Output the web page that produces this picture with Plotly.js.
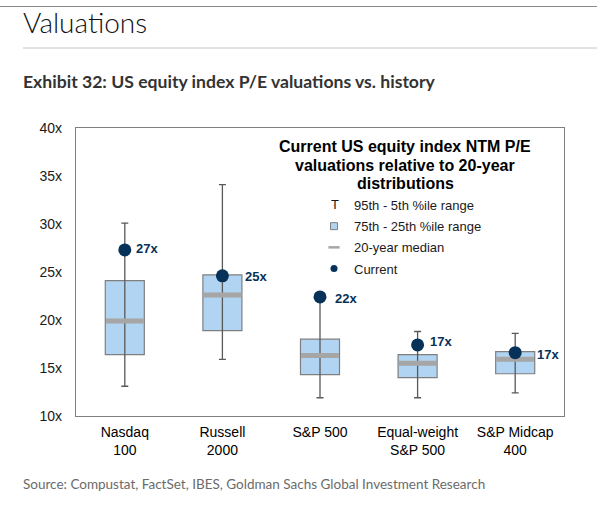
<!DOCTYPE html>
<html>
<head>
<meta charset="utf-8">
<script src="https://cdn.plot.ly/plotly-3.0.1.min.js"></script>
<style>
html,body{margin:0;padding:0;background:#fff;}
#wrap{position:relative;width:597px;height:514px;}
#chart{width:597px;height:514px;}
#topline{position:absolute;left:0;top:6px;width:597px;height:0;border-top:1.5px solid #8a8a8a;z-index:5;}
</style>
</head>
<body>
<div id="wrap">
<div id="chart"></div>
<div id="topline"></div>
</div>
<script>
// ---- data ----
var categories = ["Nasdaq<br>100", "Russell<br>2000", "S&P 500", "Equal-weight<br>S&P 500", "S&P Midcap<br>400"];
var p95     = [30.1, 34.1, 22.3, 18.8, 18.6];
var p5      = [13.1, 15.9, 11.9, 11.9, 12.4];
var p75     = [24.1, 24.7, 18.0, 16.4, 16.7];
var p25     = [16.4, 18.9, 14.3, 14.0, 14.4];
var median  = [19.9, 22.6, 16.3, 15.5, 15.9];
var current = [27.3, 24.6, 22.4, 17.4, 16.6];
var currentLabels = ["27x", "25x", "22x", "17x", "17x"];
var yTickVals = [10, 15, 20, 25, 30, 35, 40];
var yTickText = ["10x", "15x", "20x", "25x", "30x", "35x", "40x"];

// label placement (style only)
var labelXShift = [11, 23, 15, 12, 22];
var labelYShift = [1, -1, -2, 3, -2];

var navy = "#06325a";
var boxFill = "#b0d4f1";
var boxLine = "#7f7f7f";
var medGray = "#a6a6a6";
var whiskerCol = "#595959";

var iqr = p75.map(function (v, i) { return v - p25[i]; });
var mid = p95.map(function (v, i) { return (v + p5[i]) / 2; });
var half = p95.map(function (v, i) { return (v - p5[i]) / 2; });

var traces = [
  { type: "bar", x: categories, y: iqr, base: p25, width: 0.4,
    marker: { color: boxFill, line: { color: boxLine, width: 1.2 } },
    showlegend: false, hoverinfo: "skip" },
  { type: "scatter", mode: "markers", x: categories, y: mid,
    marker: { size: 1, opacity: 0 },
    error_y: { type: "data", symmetric: true, array: half, width: 3.5, thickness: 1.3, color: whiskerCol },
    showlegend: false, hoverinfo: "skip" },
  { type: "scatter", mode: "markers", x: categories, y: median,
    marker: { symbol: "line-ew", size: 27, line: { width: 5, color: medGray } },
    showlegend: false, hoverinfo: "skip" },
  { type: "scatter", mode: "markers", x: categories, y: current,
    marker: { symbol: "circle", size: 13, color: navy },
    showlegend: false, hoverinfo: "skip" },
  // legend entries
  { type: "scatter", mode: "markers", x: [null], y: [null], name: "95th - 5th %ile range",
    legendgroup: "a0", marker: { symbol: "circle", size: 1, opacity: 0 } },
  { type: "scatter", mode: "markers", x: [null], y: [null], name: "75th - 25th %ile range",
    legendgroup: "a1", marker: { symbol: "square", size: 7, color: boxFill, line: { color: boxLine, width: 1 } } },
  { type: "scatter", mode: "markers", x: [null], y: [null], name: "20-year median",
    legendgroup: "a2", marker: { symbol: "line-ew", size: 8, line: { width: 2.5, color: medGray } } },
  { type: "scatter", mode: "markers", x: [null], y: [null], name: "Current",
    legendgroup: "a3", marker: { symbol: "circle", size: 7, color: navy } }
];

function px2x(px) { return (px - 76) / 488; }
function py2y(py) { return (416 - py) / 288; }

var annotations = [];
currentLabels.forEach(function (t, i) {
  annotations.push({ x: categories[i], y: current[i], xref: "x", yref: "y", text: "<b>" + t + "</b>",
    showarrow: false, xanchor: "left", yanchor: "middle", xshift: labelXShift[i] - 2, yshift: labelYShift[i],
    font: { family: "Arial, Liberation Sans, sans-serif", size: 13, color: navy } });
});
var legTitle = ["Current US equity index NTM P/E", "valuations relative to 20-year", "distributions"];
var legTitleY = [146.7, 165, 183.3];
legTitle.forEach(function (t, i) {
  annotations.push({ x: px2x(405), y: py2y(legTitleY[i]), xref: "paper", yref: "paper", text: "<b>" + t + "</b>",
    showarrow: false, xanchor: "center", yanchor: "middle",
    font: { family: "Arial, Liberation Sans, sans-serif", size: 16, color: "#000" } });
});
annotations.push({ x: px2x(335), y: py2y(204), xref: "paper", yref: "paper", text: "T", showarrow: false,
  xanchor: "center", yanchor: "middle", font: { family: "Arial, Liberation Sans, sans-serif", size: 13, color: "#1a1a1a" } });
annotations.push({ x: px2x(21), y: py2y(22), xref: "paper", yref: "paper", text: "Valuations", showarrow: false,
  xanchor: "left", yanchor: "middle", font: { family: "Lato, sans-serif", size: 28, weight: 300, color: "#111" } });
annotations.push({ x: px2x(21), y: py2y(81), xref: "paper", yref: "paper", text: "<b>Exhibit 32: US equity index P/E valuations vs. history</b>", showarrow: false,
  xanchor: "left", yanchor: "middle", font: { family: "Lato, sans-serif", size: 17.6, color: "#333" } });
annotations.push({ x: px2x(21), y: py2y(484), xref: "paper", yref: "paper", text: "Source: Compustat, FactSet, IBES, Goldman Sachs Global Investment Research", showarrow: false,
  xanchor: "left", yanchor: "middle", font: { family: "Lato, sans-serif", size: 13.5, color: "#6b6b6b" } });

var shapes = [
  { type: "line", xref: "paper", yref: "paper", x0: px2x(23), x1: px2x(597), y0: py2y(48), y1: py2y(48), line: { color: "#c4c4c4", width: 1 } }
];

var layout = {
  width: 597, height: 514,
  margin: { l: 76, r: 33, t: 128, b: 98, pad: 0 },
  paper_bgcolor: "#fff", plot_bgcolor: "#fff",
  font: { family: "Arial, Liberation Sans, sans-serif", size: 14, color: "#000" },
  showlegend: true,
  legend: { x: px2x(314), y: py2y(190), xanchor: "left", yanchor: "top", bgcolor: "rgba(0,0,0,0)",
    font: { family: "Arial, Liberation Sans, sans-serif", size: 13, color: "#1a1a1a" },
    traceorder: "grouped", tracegroupgap: 1.3, itemwidth: 30 },
  xaxis: { type: "category", range: [-0.5, 4.5], showline: true, mirror: true, linecolor: "#808080", linewidth: 1.2,
    ticks: "", showgrid: false, zeroline: false, tickfont: { size: 14, color: "#000" }, ticklabelstandoff: 3, fixedrange: true },
  yaxis: { range: [10, 40], tickmode: "array", tickvals: yTickVals, ticktext: yTickText, showline: true, mirror: true, linecolor: "#808080", linewidth: 1.2,
    ticks: "", showgrid: false, zeroline: false, tickfont: { size: 14, color: "#1a1a1a" }, ticklabelstandoff: 10, fixedrange: true },
  annotations: annotations,
  shapes: shapes,
  bargap: 0
};

Plotly.newPlot("chart", traces, layout, { displayModeBar: false, staticPlot: true });
</script>
</body>
</html>
